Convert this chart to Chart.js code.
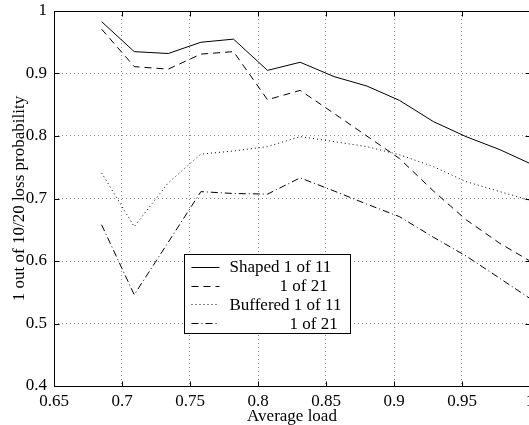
<!DOCTYPE html>
<html>
<head>
<meta charset="utf-8">
<script src="https://cdn.jsdelivr.net/npm/chart.js@4"></script>
<style>
  html, body { margin: 0; padding: 0; overflow: hidden; background: #fff; }
</style>
</head>
<body>
<canvas id="grafico" width="540" height="425"></canvas>
<script>
// Dados
const cargas = [0.685, 0.709, 0.734, 0.758, 0.782, 0.807, 0.831, 0.856, 0.880, 0.904, 0.929, 0.953, 0.978, 1.0];
const shaped11 = [0.983, 0.935, 0.932, 0.950, 0.955, 0.905, 0.918, 0.895, 0.880, 0.857, 0.823, 0.799, 0.778, 0.756];
const shaped21 = [0.971, 0.911, 0.907, 0.931, 0.935, 0.858, 0.873, 0.836, 0.800, 0.764, 0.712, 0.666, 0.628, 0.600];
const buffered11 = [0.741, 0.655, 0.725, 0.771, 0.776, 0.783, 0.799, 0.791, 0.783, 0.770, 0.751, 0.727, 0.711, 0.697];
const buffered21 = [0.658, 0.546, 0.630, 0.711, 0.708, 0.707, 0.733, 0.712, 0.691, 0.671, 0.638, 0.608, 0.572, 0.540];

const nomes = ['Shaped 1 of 11', 'Shaped 1 of 21', 'Buffered 1 of 11', 'Buffered 1 of 21'];
const textosLegenda = ['Shaped 1 of 11', '1 of 21', 'Buffered 1 of 11', '1 of 21'];
const ticksX = [0.65, 0.7, 0.75, 0.8, 0.85, 0.9, 0.95, 1];
const ticksY = [0.4, 0.5, 0.6, 0.7, 0.8, 0.9, 1];

const fonte = 'Liberation Serif, Times New Roman, serif';
const tracos = [[], [7, 5], [1, 3], [7, 3, 1, 3]];

function serie(valores, i) {
    return {
        label: nomes[i],
        data: valores.map((v, k) => ({ x: cargas[k], y: v })),
        borderColor: '#000',
        borderWidth: 1,
        borderDash: tracos[i],
        pointRadius: 0,
        tension: 0,
        fill: false
    };
}

// Moldura, marcas internas e legenda no estilo da figura original
const moldura = {
    id: 'moldura',
    afterDraw(chart) {
        const { ctx, chartArea: a, scales: { x, y } } = chart;
        const l = Math.round(a.left) + 0.5, r = Math.round(a.right) + 0.5;
        const t = Math.round(a.top) + 0.5, b = Math.round(a.bottom) + 0.5;
        ctx.save();
        ctx.strokeStyle = '#000';
        ctx.lineWidth = 1;
        ctx.setLineDash([]);
        ctx.beginPath();
        ticksX.forEach(v => {
            const px = Math.round(x.getPixelForValue(v)) + 0.5;
            ctx.moveTo(px, b); ctx.lineTo(px, b - 5);
            ctx.moveTo(px, t); ctx.lineTo(px, t + 5);
        });
        ticksY.forEach(v => {
            const py = Math.round(y.getPixelForValue(v)) + 0.5;
            ctx.moveTo(l, py); ctx.lineTo(l + 5, py);
            ctx.moveTo(r, py); ctx.lineTo(r - 5, py);
        });
        ctx.stroke();
        ctx.strokeRect(l, t, r - l, b - t);

        // legenda
        const lx = Math.round(a.left + 130) + 0.5, ly = Math.round(a.top + 243) + 0.5;
        const lw = 166, lh = 79;
        ctx.fillStyle = '#fff';
        ctx.fillRect(lx, ly, lw, lh);
        ctx.strokeRect(lx, ly, lw, lh);
        const recuos = [0, 50, 0, 60];
        ctx.font = '17px ' + fonte;
        ctx.textBaseline = 'middle';
        ctx.fillStyle = '#000';
        textosLegenda.forEach((txt, i) => {
            const yy = ly + 12.5 + i * 18.7;
            ctx.setLineDash(tracos[i]);
            ctx.beginPath();
            ctx.moveTo(lx + 7, Math.round(yy) + 0.5);
            ctx.lineTo(lx + 35, Math.round(yy) + 0.5);
            ctx.stroke();
            ctx.fillText(txt, lx + 45 + recuos[i], yy + 1);
        });
        ctx.restore();
    }
};

const formatar = v => String(parseFloat(Number(v).toFixed(2)));

new Chart(document.getElementById('grafico'), {
    type: 'line',
    data: {
        datasets: [
            serie(shaped11, 0),
            serie(shaped21, 1),
            serie(buffered11, 2),
            serie(buffered21, 3)
        ]
    },
    options: {
        responsive: false,
        animation: false,
        layout: { padding: { top: 11, right: 10, left: 0, bottom: 0 } },
        plugins: { legend: { display: false }, tooltip: { enabled: false } },
        scales: {
            x: {
                type: 'linear',
                min: 0.65,
                max: 1,
                afterBuildTicks: s => { s.ticks = ticksX.map(v => ({ value: v })); },
                afterFit: s => { s.height = 39; },
                grid: { color: '#888', lineWidth: 1, drawTicks: false },
                border: { display: false, dash: [1, 3] },
                ticks: {
                    autoSkip: false, maxRotation: 0, padding: 5, color: '#000',
                    font: { family: fonte, size: 17 },
                    callback: formatar
                },
                title: {
                    display: true, text: 'Average load', color: '#000',
                    font: { family: fonte, size: 17, lineHeight: 1 },
                    padding: { top: 0, bottom: 0 }
                }
            },
            y: {
                type: 'linear',
                min: 0.4,
                max: 1,
                afterBuildTicks: s => { s.ticks = ticksY.map(v => ({ value: v })); },
                afterFit: s => { s.width = 54; },
                grid: { color: '#888', lineWidth: 1, drawTicks: false },
                border: { display: false, dash: [1, 3] },
                ticks: {
                    autoSkip: false, padding: 7, color: '#000',
                    // lineHeight baixo para nao empurrar o topo da area do grafico
                    font: { family: fonte, size: 17, lineHeight: 0.4 },
                    callback: formatar
                },
                title: {
                    display: true, text: '1 out of 10/20 loss probability', color: '#000',
                    font: { family: fonte, size: 17, lineHeight: 1.2 },
                    padding: { top: 9, bottom: 0 }
                }
            }
        }
    },
    plugins: [moldura]
});
</script>
</body>
</html>
